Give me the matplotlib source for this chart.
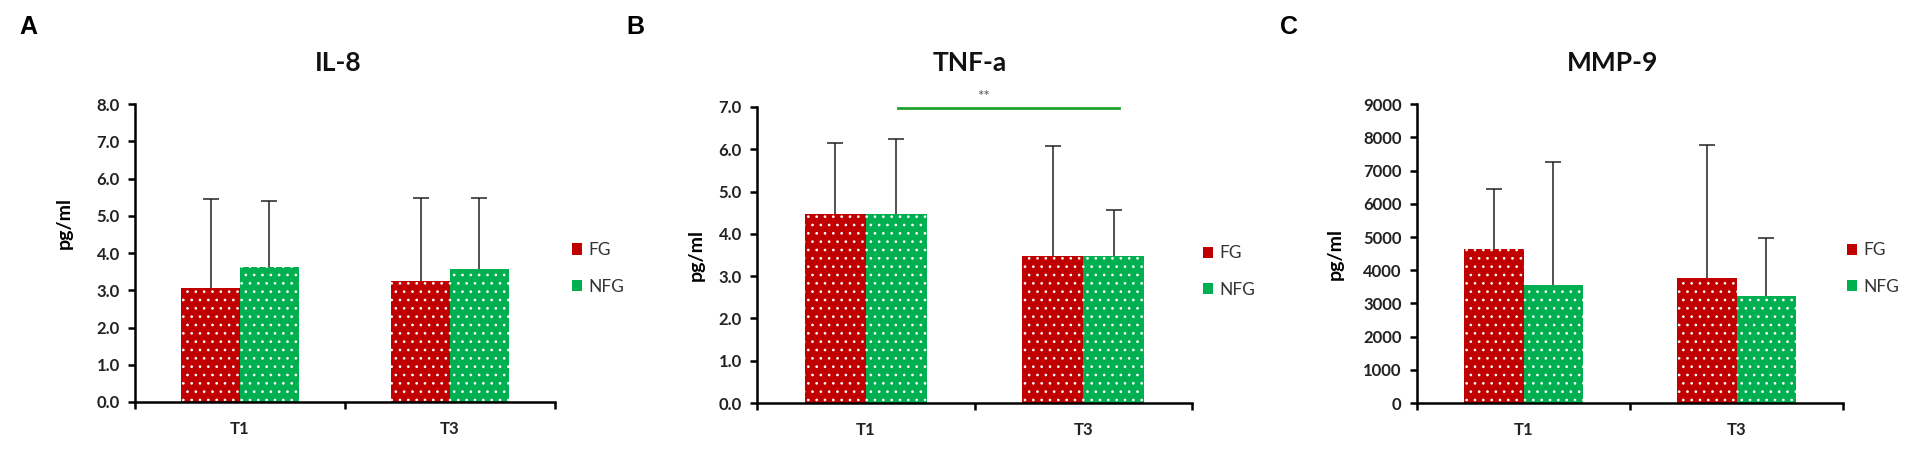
import matplotlib
matplotlib.use("Agg")
import matplotlib.pyplot as plt
from matplotlib.patches import Patch
import numpy as np

plt.rcParams['font.family'] = ['Lato', 'DejaVu Sans']
plt.rcParams['hatch.linewidth'] = 0.7

groups = ["T1", "T3"]
series = ["FG", "NFG"]
colors = ["#C00000", "#00B050"]

titles = ["IL-8", "TNF-a", "MMP-9"]
letters = ["A", "B", "C"]

# means and upper ends of the error bars
il8_fg = [3.05, 3.26]
il8_fg_top = [5.44, 5.48]
il8_nfg = [3.63, 3.56]
il8_nfg_top = [5.40, 5.48]

tnf_fg = [4.46, 3.48]
tnf_fg_top = [6.15, 6.08]
tnf_nfg = [4.46, 3.48]
tnf_nfg_top = [6.23, 4.56]

mmp_fg = [4630, 3760]
mmp_fg_top = [6460, 7760]
mmp_nfg = [3560, 3230]
mmp_nfg_top = [7250, 4985]

ylims = [8.0, 7.0, 9000]
ysteps = [1.0, 1.0, 1000]
yfmt = ["{:.1f}", "{:.1f}", "{:.0f}"]

panels = [
    (il8_fg, il8_fg_top, il8_nfg, il8_nfg_top),
    (tnf_fg, tnf_fg_top, tnf_nfg, tnf_nfg_top),
    (mmp_fg, mmp_fg_top, mmp_nfg, mmp_nfg_top),
]

# layout (figure fractions)
boxes = [
    [135 / 1910, 0.1067, 420 / 1910, 0.662],
    [757 / 1910, 0.1044, 435 / 1910, 0.658],
    [1417 / 1910, 0.1044, 426 / 1910, 0.664],
]
title_x = [0.483, 0.49, 0.46]
ylab_pos = [(-0.148, 0.60), (-0.12, 0.5), (-0.171, 0.5)]
leg_pos = [(1.04, 0.448), (1.025, 0.444), (1.009, 0.45)]
letter_x = [28 / 1910, 635 / 1910, 1289 / 1910]

fig = plt.figure(figsize=(19.1, 4.5), dpi=100)

w = 0.28
x = np.arange(len(groups))
for i, (fg, fg_top, nfg, nfg_top) in enumerate(panels):
    ax = fig.add_axes(boxes[i])
    means = [fg, nfg]
    tops = [fg_top, nfg_top]
    for j in range(2):
        m = np.array(means[j])
        err = np.array(tops[j]) - m
        pos = x + (j - 0.5) * w
        # symmetric bars drawn behind the columns, like excel (lower half hidden)
        ax.errorbar(pos, m, yerr=err, fmt="none", ecolor="#222222",
                    elinewidth=1.1, capsize=5.5, capthick=1.1, zorder=1)
        ax.bar(pos, m, width=w, color=colors[j], edgecolor="white", linewidth=0,
               hatch="..", zorder=2)
    ax.set_xlim(-0.5, 1.5)
    ax.set_ylim(0, ylims[i])
    yt = np.arange(0, ylims[i] + ysteps[i] / 2, ysteps[i])
    ax.set_yticks(yt)
    ax.set_yticklabels([yfmt[i].format(v) for v in yt], fontsize=12, fontweight="bold",
                       color="#222222")
    ax.set_xticks(x)
    ax.set_xticklabels(groups, fontsize=12, fontweight="bold", color="#222222")
    ax.tick_params(axis="x", length=0, pad=14)
    ax.set_xticks([-0.5, 0.5, 1.5], minor=True)
    ax.tick_params(axis="x", which="minor", length=5, width=1.8, direction="out")
    ax.tick_params(axis="y", length=5, width=1.8, direction="out", pad=6)
    for s in ["top", "right"]:
        ax.spines[s].set_visible(False)
    for s in ["left", "bottom"]:
        ax.spines[s].set_linewidth(1.8)
        ax.spines[s].set_zorder(4)
    ax.set_ylabel("pg/ml", fontsize=14, fontweight="bold")
    ax.yaxis.set_label_coords(*ylab_pos[i])
    fig.text(title_x[i] * boxes[i][2] + boxes[i][0], 0.86, titles[i], fontsize=19,
             fontweight="bold", ha="center", va="center", color="#111111")
    handles = [Patch(facecolor=c, edgecolor="none") for c in colors]
    ax.legend(handles, series, loc="center left", bbox_to_anchor=leg_pos[i], frameon=False,
              fontsize=12.5, handlelength=0.6, handleheight=0.6, handletextpad=0.35,
              labelspacing=1.2, borderpad=0, borderaxespad=0, labelcolor="#333333")
    fig.text(letter_x[i], 0.94, letters[i], fontsize=18, fontweight="bold",
             family="Liberation Sans", ha="center", va="center")
    if i == 1:
        ax.plot([0.148, 1.164], [6.98, 6.98], color="#22A02C", lw=2, clip_on=False)
        ax.text(0.539, 7.24, "**", ha="center", va="center", fontsize=11, color="#555555",
                clip_on=False)

fig.savefig("out.png", dpi=100)
